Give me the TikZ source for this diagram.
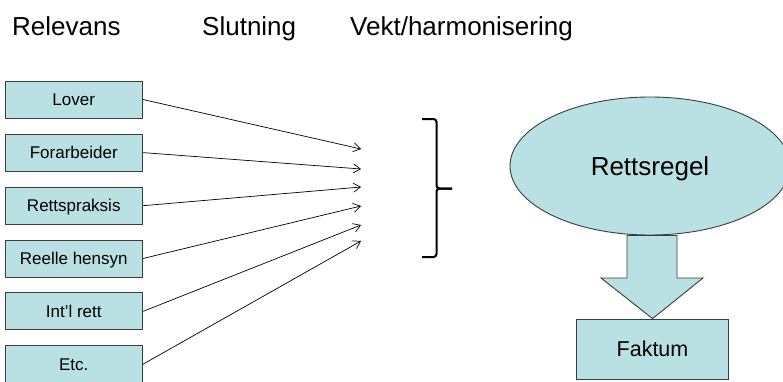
\documentclass[tikz,border=0pt]{standalone}
\usepackage{fontspec}
\setmainfont{Liberation Sans}
\usetikzlibrary{arrows.meta,shapes.geometric}
\definecolor{boxfill}{RGB}{185,224,227}
\definecolor{edgecol}{RGB}{60,60,60}
\begin{document}
\begin{tikzpicture}[x=1pt,y=-1pt,
  srcbox/.style={draw=edgecol,fill=boxfill,line width=0.9pt,minimum width=137.5pt,minimum height=37pt,inner sep=0pt,text height=12.2pt,text depth=0pt,font=\fontsize{17}{20}\selectfont},
  hdr/.style={anchor=base west,inner sep=0pt,font=\fontsize{26}{30}\selectfont},
  feed/.style={line width=0.7pt,-{Straight Barb[length=7pt,width=9pt]}},
  bracepath/.style={line width=2pt,rounded corners=3pt},
  shapefill/.style={draw=edgecol,fill=boxfill,line width=0.9pt}]
\useasboundingbox (0,0) rectangle (783,381);
\clip (0,0) rectangle (783,381);
\fill[white] (0,0) rectangle (783,381);

% headings
\node[hdr] (h1) at (12,35) {Relevans};
\node[hdr] (h2) at (202,35) {Slutning};
\node[hdr] (h3) at (350,35) {Vekt/harmonisering};

% source boxes
\node[srcbox] (b1) at (73.75,99.5) {Lover};
\node[srcbox] (b2) at (73.75,152.6) {Forarbeider};
\node[srcbox] (b3) at (73.75,205.7) {Rettspraksis};
\node[srcbox] (b4) at (73.75,258.5) {Reelle hensyn};
\node[srcbox] (b5) at (73.75,311.4) {Int’l rett};
\node[srcbox] (b6) at (73.75,364.2) {Etc.};

% arrow end points
\coordinate (e1) at (361,149);
\coordinate (e2) at (361,169);
\coordinate (e3) at (361,187);
\coordinate (e4) at (361,206);
\coordinate (e5) at (361,225);
\coordinate (e6) at (361,241);

\draw[feed] (b1.east) -- (e1);
\draw[feed] (b2.east) -- (e2);
\draw[feed] (b3.east) -- (e3);
\draw[feed] (b4.east) -- (e4);
\draw[feed] (b5.east) -- (e5);
\draw[feed] (b6.east) -- (e6);

% brace
\draw[bracepath] (422,119) -- (436.5,119) -- (436.5,188.5) -- (452,188.5);
\draw[bracepath] (422,257) -- (436.5,257) -- (436.5,188.5) -- (452,188.5);

% rule ellipse
\node[shapefill,ellipse,minimum width=280pt,minimum height=138pt,inner sep=0pt,text height=18.6pt,text depth=0pt,font=\fontsize{26}{30}\selectfont] (rr) at (650,166) {Rettsregel};

% fact box
\node[shapefill,minimum width=151.5pt,minimum height=60.3pt,inner sep=0pt,text height=15.4pt,text depth=0pt,font=\fontsize{21.5}{25}\selectfont] (fk) at (652.5,349.2) {Faktum};

% block arrow from rule to fact
\draw[shapefill,line join=miter] (627,235.5) -- (677,235.5) -- (677,278) -- (703,278) -- (fk.north) -- (601,278) -- (627,278) -- cycle;
\end{tikzpicture}
\end{document}
